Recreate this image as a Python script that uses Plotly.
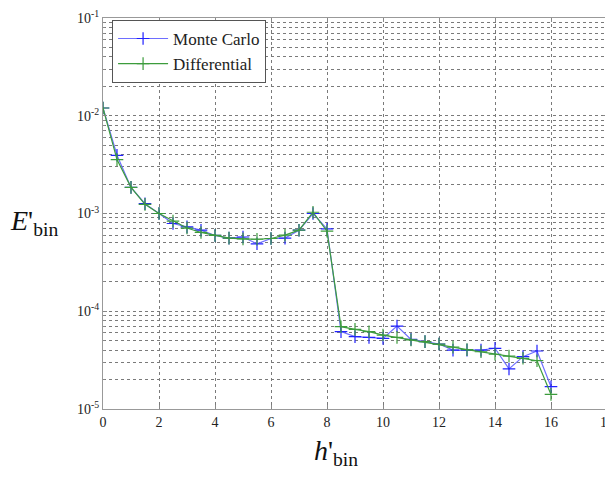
import plotly.graph_objects as go

h_bin = [0, 0.5, 1, 1.5, 2, 2.5, 3, 3.5, 4, 4.5, 5, 5.5, 6, 6.5, 7, 7.5, 8,
         8.5, 9, 9.5, 10, 10.5, 11, 11.5, 12, 12.5, 13, 13.5, 14, 14.5, 15, 15.5, 16]

monte_carlo = [1.2e-2, 3.94e-3, 1.85e-3, 1.26e-3, 1.0e-3, 7.9e-4, 7.3e-4, 6.75e-4, 5.96e-4,
               5.6e-4, 5.75e-4, 4.9e-4, 5.55e-4, 5.6e-4, 6.75e-4, 1.0e-3, 6.95e-4,
               6.18e-5, 5.5e-5, 5.4e-5, 5.28e-5, 7.06e-5, 5.16e-5, 4.89e-5, 4.62e-5,
               4.0e-5, 4.0e-5, 4.0e-5, 4.18e-5, 2.57e-5, 3.43e-5, 3.92e-5, 1.69e-5]

differential = [1.2e-2, 3.56e-3, 1.85e-3, 1.24e-3, 1.0e-3, 8.35e-4, 7.1e-4, 6.4e-4, 5.96e-4,
                5.6e-4, 5.5e-4, 5.45e-4, 5.55e-4, 6.0e-4, 6.75e-4, 1.03e-3, 6.6e-4,
                6.95e-5, 6.53e-5, 6.18e-5, 5.71e-5, 5.4e-5, 5.1e-5, 4.89e-5, 4.62e-5,
                4.3e-5, 4.05e-5, 3.85e-5, 3.63e-5, 3.48e-5, 3.3e-5, 3.12e-5, 1.41e-5]

x_ticks = [0, 2, 4, 6, 8, 10, 12, 14, 16, 18]
y_tickvals = [1e-5, 1e-4, 1e-3, 1e-2, 1e-1]
y_ticktext = ["10<sup>-5</sup>", "10<sup>-4</sup>", "10<sup>-3</sup>", "10<sup>-2</sup>", "10<sup>-1</sup>"]

SERIF = "Liberation Serif"

fig = go.Figure()
fig.add_trace(go.Scatter(
    x=h_bin, y=monte_carlo, name="Monte Carlo", mode="lines+markers",
    line=dict(color="#6e6eff", width=1.2),
    marker=dict(symbol="cross-thin", size=9, line=dict(color="#2020ff", width=1.2)),
))
fig.add_trace(go.Scatter(
    x=h_bin, y=differential, name="Differential", mode="lines+markers",
    line=dict(color="#3c9c3c", width=1.2),
    marker=dict(symbol="cross-thin", size=9, line=dict(color="#3c9c3c", width=1.2)),
))

grid = dict(showgrid=True, gridcolor="#7a7a7a", griddash="dot", gridwidth=1)

fig.update_layout(
    width=613, height=486,
    margin=dict(l=95, r=14, t=10, b=85),
    paper_bgcolor="white", plot_bgcolor="white",
    font=dict(family=SERIF, size=14, color="#222"),
    showlegend=True,
    legend=dict(x=0.018, y=0.995, xanchor="left", yanchor="top",
                bordercolor="#555", borderwidth=1, bgcolor="white",
                font=dict(family=SERIF, size=17, color="#222"),
                tracegroupgap=0, itemwidth=50),
    xaxis=dict(range=[0, 18], tickvals=x_ticks, ticks="inside", ticklen=4,
               tickcolor="#888", showline=True, linecolor="#999", mirror="allticks",
               zeroline=False, automargin=False, **grid),
    yaxis=dict(type="log", range=[-5, -1], tickvals=y_tickvals, ticktext=y_ticktext,
               ticks="inside", ticklen=4, tickcolor="#888", showline=True,
               linecolor="#999", mirror="allticks", zeroline=False, automargin=False,
               minor=dict(dtick="D1", showgrid=True, gridcolor="#7a7a7a", griddash="dot",
                          gridwidth=1, ticks="inside", ticklen=2, tickcolor="#888"),
               **grid),
    annotations=[
        dict(text="<i>E</i>'<sub>bin</sub>", xref="paper", yref="paper",
             x=-0.085, y=0.478, xanchor="right", yanchor="middle", showarrow=False,
             font=dict(family=SERIF, size=28, color="#111")),
        dict(text="<i>h</i>'<sub>bin</sub>", xref="paper", yref="paper",
             x=0.462, y=-0.11, xanchor="center", yanchor="middle", showarrow=False,
             font=dict(family=SERIF, size=28, color="#111")),
    ],
)

fig.write_html("out.html")
